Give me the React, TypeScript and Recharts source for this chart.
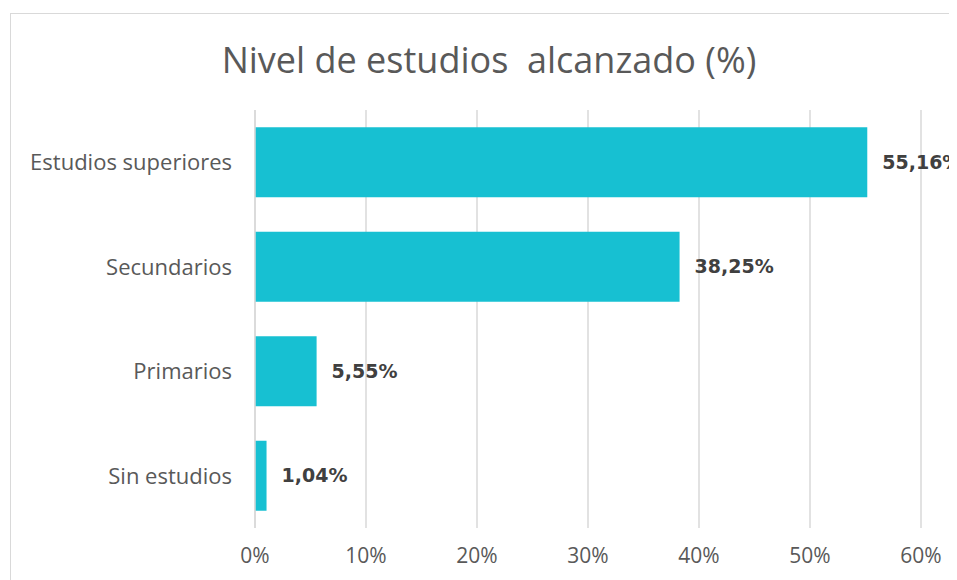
import React from 'react';
import { BarChart, Bar, XAxis, YAxis, CartesianGrid, LabelList } from 'recharts';

const categories = ['Estudios superiores', 'Secundarios', 'Primarios', 'Sin estudios'];
const values = [55.16, 38.25, 5.55, 1.04];
const xTicks = [0, 10, 20, 30, 40, 50, 60];

const data = categories.map((name, i) => ({ name, value: values[i] }));

const fmtLabel = (v: any) => `${Number(v).toFixed(2).replace('.', ',')}%`;

export default function App() {
  return (
    <div style={{ position: 'relative', width: 949, height: 572, overflow: 'hidden' }}>
      <div
        style={{
          position: 'absolute',
          left: 2,
          top: 5,
          width: 1100,
          height: 700,
          border: '1px solid #d9d9d9',
          background: '#fff',
        }}
      >
        <div
          style={{
            position: 'absolute',
            left: 0,
            width: 956,
            top: 21,
            textAlign: 'center',
            fontFamily: 'Open Sans, sans-serif',
            fontSize: 36,
            color: '#595959',
          }}
        >
          Nivel de estudios&nbsp; alcanzado (%)
        </div>
        <BarChart
          width={1000}
          height={566}
          data={data}
          layout="vertical"
          margin={{ top: 96, right: 90, bottom: 12, left: 0 }}
          barCategoryGap="16.5%"
        >
          <CartesianGrid horizontal={false} stroke="#d9d9d9" strokeWidth={1.5} />
          <XAxis
            type="number"
            domain={[0, 60]}
            ticks={xTicks}
            tickFormatter={(v) => `${v}%`}
            axisLine={false}
            tickLine={false}
            height={40}
            tickMargin={14}
            tick={{ fill: '#595959', fontSize: 21, fontFamily: 'Open Sans, sans-serif' }}
          />
          <YAxis
            type="category"
            dataKey="name"
            width={244}
            axisLine={{ stroke: '#d9d9d9', strokeWidth: 1.5 }}
            tickLine={false}
            tickMargin={17}
            tick={{ fill: '#595959', fontSize: 22, fontFamily: 'Open Sans, sans-serif' }}
          />
          <Bar dataKey="value" fill="#17c0d2" isAnimationActive={false}>
            <LabelList
              dataKey="value"
              position="right"
              offset={15}
              formatter={fmtLabel}
              fill="#404040"
              style={{ fontWeight: 'bold', fontSize: 19, fontFamily: 'DejaVu Sans, sans-serif' }}
            />
          </Bar>
        </BarChart>
      </div>
    </div>
  );
}
